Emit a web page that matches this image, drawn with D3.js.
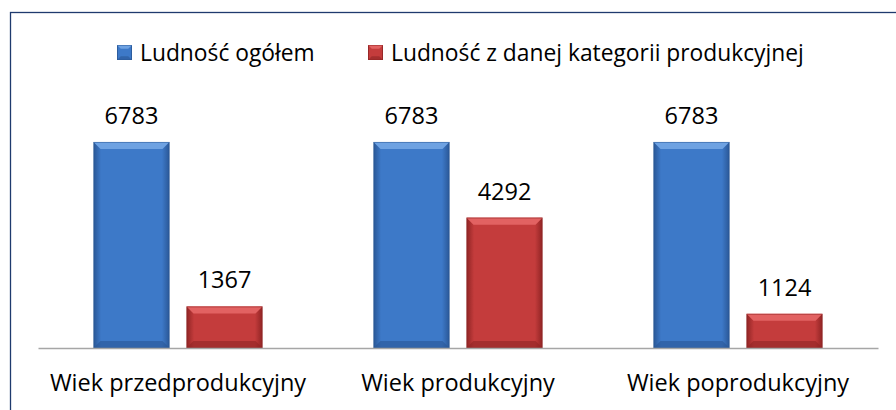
<!DOCTYPE html>
<html>
<head>
<meta charset="utf-8">
<script src="https://cdn.jsdelivr.net/npm/d3@7"></script>
<style>
  body { margin: 0; background: #fff; }
  svg { display: block; font-family: "Open Sans", sans-serif; }
</style>
</head>
<body>
<div id="chart"></div>
<script>
const categories = ["Wiek przedprodukcyjny", "Wiek produkcyjny", "Wiek poprodukcyjny"];
const seriesNames = ["Ludność ogółem", "Ludność z danej kategorii produkcyjnej"];
const totalPop = [6783, 6783, 6783];
const groupPop = [1367, 4292, 1124];

const width = 896;
const height = 410;
const fontSize = 23.5;
const legendFontSize = 22.8;

// colours for the bevelled bars: [main, light top, dark edge]
const palette = [
  { main: "#3d79c8", light: "#6ea2e2", dark: "#2a5796" },
  { main: "#c43c3c", light: "#e26262", dark: "#8f2424" }
];

const rows = categories.map((c, i) => ({ cat: c, values: [totalPop[i], groupPop[i]] }));

const svg = d3.select("#chart")
  .append("svg")
  .attr("width", width)
  .attr("height", height);

const defs = svg.append("defs");
palette.forEach((p, i) => {
  const g = defs.append("linearGradient")
    .attr("id", "grad" + i)
    .attr("x1", "0").attr("x2", "1").attr("y1", "0").attr("y2", "0");
  g.append("stop").attr("offset", "0%").attr("stop-color", p.dark);
  g.append("stop").attr("offset", "10%").attr("stop-color", p.main);
  g.append("stop").attr("offset", "90%").attr("stop-color", p.main);
  g.append("stop").attr("offset", "100%").attr("stop-color", p.dark);
});

// frame (cut off on the right and bottom like the original)
svg.append("rect")
  .attr("x", 10.5)
  .attr("y", 12.5)
  .attr("width", 1000)
  .attr("height", 1000)
  .attr("fill", "none")
  .attr("stroke", "#1f3a6e")
  .attr("stroke-width", 1.3);

const x0 = d3.scaleBand()
  .domain(categories)
  .range([38, 878]);

const x1 = d3.scaleBand()
  .domain([0, 1])
  .range([55.5, 224.5])
  .paddingInner(0.183);

const y = d3.scaleLinear()
  .domain([0, 8000])
  .range([348, 105]);

// bevelled bar drawn as a few polygons
const drawBar = (g, bx, by, bw, bh, p, i) => {
  const b = Math.min(7, bh / 3, bw / 4);
  g.append("rect")
    .attr("x", bx).attr("y", by)
    .attr("width", bw).attr("height", bh)
    .attr("fill", `url(#grad${i})`);
  g.append("polygon")
    .attr("points", `${bx},${by} ${bx + bw},${by} ${bx + bw - b},${by + b} ${bx + b},${by + b}`)
    .attr("fill", p.light);
  g.append("polygon")
    .attr("points", `${bx},${by + bh} ${bx + bw},${by + bh} ${bx + bw - b},${by + bh - b} ${bx + b},${by + bh - b}`)
    .attr("fill", p.dark)
    .attr("opacity", 0.6);
  g.append("rect")
    .attr("x", bx + 0.5).attr("y", by + 0.5)
    .attr("width", bw - 1).attr("height", bh - 1)
    .attr("fill", "none")
    .attr("stroke", p.dark)
    .attr("stroke-opacity", 0.5);
};

const groups = svg.selectAll("g.cat")
  .data(rows)
  .enter()
  .append("g")
  .attr("class", "cat")
  .attr("transform", d => `translate(${x0(d.cat)},0)`);

groups.each(function (d) {
  const g = d3.select(this);
  d.values.forEach((v, i) => {
    const bx = x1(i);
    const by = y(v);
    drawBar(g, bx, by, x1.bandwidth(), y(0) - by, palette[i], i);
    g.append("text")
      .attr("x", bx + x1.bandwidth() / 2)
      .attr("y", by - 18)
      .attr("text-anchor", "middle")
      .attr("font-size", fontSize)
      .attr("fill", "#000")
      .text(v);
  });
});

// category axis
const xAxis = svg.append("g")
  .attr("transform", `translate(0,${y(0)})`)
  .call(d3.axisBottom(x0).tickSize(0).tickPadding(26));
xAxis.select(".domain").attr("stroke", "#a6a6a6").attr("stroke-width", 1.5);
xAxis.selectAll("text")
  .attr("font-size", fontSize)
  .attr("font-family", "Open Sans, sans-serif")
  .attr("fill", "#000");

// legend
const legendX = [117, 368];
const legend = svg.append("g");
seriesNames.forEach((name, i) => {
  const g = legend.append("g").attr("transform", `translate(${legendX[i]},45)`);
  drawBar(g, 0, 0, 15, 15, palette[i], i);
  g.append("text")
    .attr("x", 23)
    .attr("y", 16)
    .attr("font-size", legendFontSize)
    .attr("fill", "#000")
    .text(name);
});
</script>
</body>
</html>
